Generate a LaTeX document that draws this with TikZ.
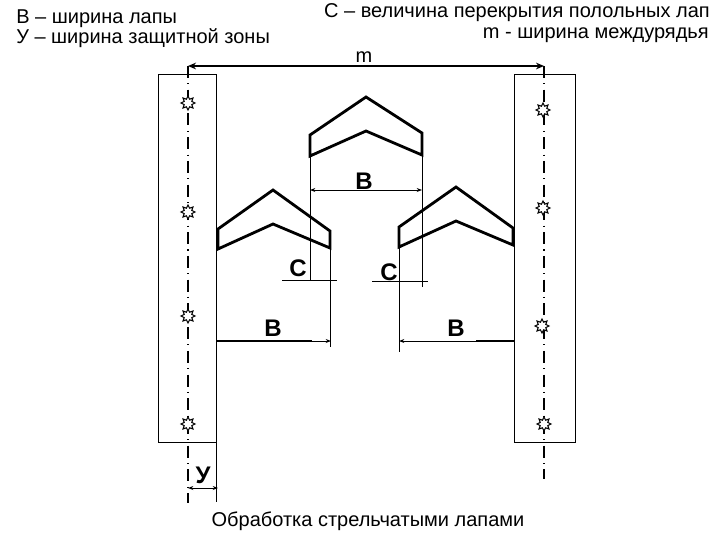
\documentclass[tikz,border=0pt]{standalone}
\usepackage{fontspec}
\setmainfont{Liberation Sans}
\usetikzlibrary{shapes.geometric,arrows.meta}
\tikzset{
 px/.style={x=0.75pt,y=-0.75pt},
 thinl/.style={line width=0.7pt,draw=black},
 strip/.style={line width=0.7pt,draw=black},
 sharel/.style={line width=2.1pt,draw=black,line join=miter},
 axisl/.style={line width=0.9pt,draw=black,dash pattern=on 9pt off 4pt on 0.8pt off 4pt},
 dim/.style={line width=0.7pt,draw=black,{Stealth[length=4pt,width=3pt]}-{Stealth[length=4pt,width=3pt]}},
 thickdim/.style={line width=1.5pt,draw=black},
 starn/.style={star,star points=8,star point ratio=1.7,draw=black,fill=white,line width=0.8pt,minimum size=10.5pt,inner sep=0pt},
 lbl/.style={font=\fontsize{15}{17}\selectfont,inner sep=0pt,text=black},
 biglbl/.style={font=\fontsize{18}{20}\selectfont\bfseries,inner sep=0pt,text=black},
}
\begin{document}
\begin{tikzpicture}[px]
\useasboundingbox (0,0) rectangle (720,540);
% axis end points
\coordinate (lt) at (188,66); \coordinate (lb) at (188,503);
\coordinate (rt) at (544,66); \coordinate (rb) at (544,479);
% strips
\draw[strip] (158,74) rectangle (216,442);
\draw[strip] (514,74) rectangle (575,442);
% axes
\draw[axisl] (lt) -- (lb);
\draw[axisl] (rt) -- (rb);
\draw[line width=1.6pt,{Stealth[length=6pt,width=5pt]}-{Stealth[length=6pt,width=5pt]}] (lt) -- (rt);
% plants
\node[starn] (s1) at (188,103) {}; \node[starn] (s2) at (188,212) {};
\node[starn] (s3) at (188,316) {}; \node[starn] (s4) at (188,424) {};
\node[starn] (s5) at (543,110) {}; \node[starn] (s6) at (543,208) {};
\node[starn] (s7) at (542,326) {}; \node[starn] (s8) at (544,424) {};
% shares
\coordinate (cl) at (310,156); \coordinate (cr) at (422,155);
\coordinate (al) at (218,249); \coordinate (ar) at (330,248);
\coordinate (bl) at (399,247); \coordinate (br) at (513,245);
\draw[sharel] (366,97) -- (310,135) -- (cl) -- (366,131) -- (cr) -- (422,133) -- cycle;
\draw[sharel] (273,190) -- (218,229) -- (al) -- (273,224) -- (ar) -- (330,231) -- cycle;
\draw[sharel] (456,187) -- (399,227) -- (bl) -- (456,221) -- (br) -- (513,228) -- cycle;
% extension lines
\coordinate (e1) at (310,281); \coordinate (e2) at (422,287);
\coordinate (e3) at (330,347); \coordinate (e4) at (399,352);
\coordinate (e5) at (216,502);
\draw[thinl] (cl) -- (e1);
\draw[thinl] (cr) -- (e2);
\draw[thinl] (ar) -- (e3);
\draw[thinl] (bl) -- (e4);
\draw[thinl] (216,442) -- (e5);
% B centre
\coordinate (d1) at (310,190); \coordinate (d2) at (422,190);
\draw[dim] (d1) -- (d2);
% C marks
\coordinate (c1) at (282,280); \coordinate (c2) at (337,280);
\coordinate (c3) at (372,281); \coordinate (c4) at (428,281);
\draw[thinl] (c1) -- (c2);
\draw[thinl] (c3) -- (c4);
% B lower
\coordinate (b1) at (216,341); \coordinate (b2) at (312,341); \coordinate (b3) at (331,341);
\coordinate (b4) at (399,341); \coordinate (b5) at (476,341); \coordinate (b6) at (514,341);
\draw[thinl,-{Stealth[length=4pt,width=3pt]}] (b1) -- (b3);
\draw[thickdim] (b1) -- (b2);
\draw[thinl,{Stealth[length=4pt,width=3pt]}-] (b4) -- (b6);
\draw[thickdim] (b5) -- (b6);
% Y mark
\coordinate (y1) at (188,488); \coordinate (y2) at (218,488);
\draw[thinl,{Stealth[length=4pt,width=3pt]}-{Stealth[length=4pt,width=3pt]}] (y1) -- (y2);
% labels
\node[biglbl] (tb1) at (364,181) {В};
\node[biglbl] (tc1) at (298,268) {С};
\node[biglbl] (tc2) at (389,272) {С};
\node[biglbl] (tb2) at (273,328) {В};
\node[biglbl] (tb3) at (456,328) {В};
\node[biglbl] (ty) at (203,475) {У};
\node[lbl,anchor=west] (t1) at (16,19) {В – ширина лапы};
\node[lbl,anchor=west] (t2) at (16,38) {У – ширина защитной зоны};
\node[lbl,anchor=east] (t3) at (710,13) {С – величина перекрытия полольных лап};
\node[lbl,anchor=east] (t4) at (709,35) {m - ширина междурядья};
\node[lbl] (tm) at (364,57) {m};
\node[lbl] (tf) at (368,521) {Обработка стрельчатыми лапами};
\end{tikzpicture}
\end{document}
